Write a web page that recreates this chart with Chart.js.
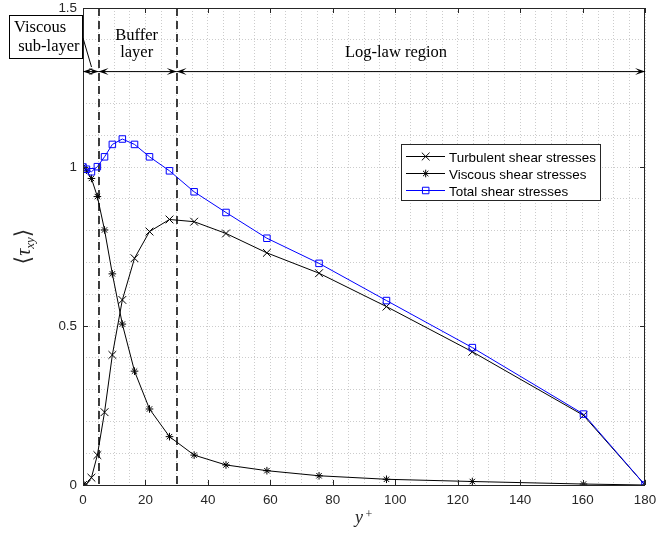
<!DOCTYPE html>
<html><head><meta charset="utf-8">
<script src="https://cdn.jsdelivr.net/npm/chart.js@4.4.1/dist/chart.umd.min.js"></script>
<style>html,body{margin:0;padding:0;background:#fff;}canvas{display:block;}</style>
</head><body>
<canvas id="c" width="657" height="535" style="width:657px;height:535px"></canvas>
<script>
// ---- data ----
const yPlus     = [0, 1.1, 2.7, 4.6, 6.9, 9.4, 12.6, 16.5, 21.3, 27.7, 35.6, 45.8, 58.9, 75.6, 97.2, 124.7, 160.3, 180];
const turbulent = [0, 0.003, 0.023, 0.094, 0.229, 0.409, 0.582, 0.713, 0.797, 0.835, 0.828, 0.791, 0.730, 0.666, 0.561, 0.419, 0.219, 0];
const viscous   = [1.0, 0.99, 0.964, 0.907, 0.802, 0.664, 0.506, 0.358, 0.239, 0.152, 0.094, 0.063, 0.045, 0.029, 0.018, 0.011, 0.003, 0];
const total     = [1.0, 0.993, 0.985, 1.001, 1.032, 1.071, 1.088, 1.071, 1.032, 0.988, 0.922, 0.857, 0.776, 0.697, 0.580, 0.432, 0.223, 0];
const seriesNames = ['Turbulent shear stresses', 'Viscous shear stresses', 'Total shear stresses'];
const xTickLabels = [0, 20, 40, 60, 80, 100, 120, 140, 160, 180];
const yTickLabels = [0, 0.5, 1, 1.5];
const regionBounds = [0, 5, 30, 180];
const regionLevel = 1.3;
const regionNames = [['Viscous', ' sub-layer'], ['Buffer', 'layer'], ['Log-law region']];

const pts = arr => arr.map((v, i) => ({x: yPlus[i], y: v}));
const BLUE = '#0000ff';
const AX = '#262626';
const SANS = '"Liberation Sans", Arial, sans-serif';
const SERIF = '"Liberation Serif", "Times New Roman", serif';
const tickFont = {family: SANS, size: 13.4};

const styles = [
  {color: '#000', pointStyle: 'crossRot', radius: 5.5},
  {color: '#000', pointStyle: 'star', radius: 3.8},
  {color: BLUE, pointStyle: 'rect', radius: 4.6}
];
const seriesData = [turbulent, viscous, total];

function arrowHead(ctx, x, y, dir) {
  const L = 10, W = 7, N = 5.5;
  ctx.beginPath();
  ctx.moveTo(x, y);
  ctx.lineTo(x - dir * L, y - W / 2);
  ctx.lineTo(x - dir * N, y);
  ctx.lineTo(x - dir * L, y + W / 2);
  ctx.closePath();
  ctx.fill();
}

function noPad(s) {
  s.paddingLeft = 0; s.paddingRight = 0; s.paddingTop = 0; s.paddingBottom = 0;
}

const decor = {
  id: 'decor',
  beforeDatasetsDraw(chart) {
    const {ctx, chartArea: a, scales: {x}} = chart;
    ctx.save();
    ctx.strokeStyle = '#000';
    ctx.lineWidth = 1.5;
    ctx.setLineDash([8, 5]);
    [regionBounds[1], regionBounds[2]].forEach(v => {
      const px = Math.round(x.getPixelForValue(v));
      ctx.beginPath(); ctx.moveTo(px, a.top); ctx.lineTo(px, a.bottom); ctx.stroke();
    });
    ctx.restore();
  },
  afterDraw(chart) {
    const {ctx, chartArea: a, scales: {x, y}} = chart;
    ctx.save();
    // axes box
    ctx.strokeStyle = AX; ctx.lineWidth = 1; ctx.setLineDash([]);
    ctx.strokeRect(a.left + 0.5, a.top + 0.5, a.right - a.left - 1, a.bottom - a.top);
    // inward ticks
    ctx.beginPath();
    xTickLabels.forEach(v => {
      const px = Math.round(x.getPixelForValue(v)) + 0.5;
      ctx.moveTo(px, a.bottom); ctx.lineTo(px, a.bottom - 5);
      ctx.moveTo(px, a.top); ctx.lineTo(px, a.top + 5);
    });
    yTickLabels.forEach(v => {
      const py = Math.round(y.getPixelForValue(v)) + 0.5;
      ctx.moveTo(a.left, py); ctx.lineTo(a.left + 5, py);
      ctx.moveTo(a.right, py); ctx.lineTo(a.right - 5, py);
    });
    ctx.stroke();

    // region arrows
    const ay = y.getPixelForValue(regionLevel);
    ctx.strokeStyle = '#000'; ctx.fillStyle = '#000'; ctx.lineWidth = 1;
    for (let i = 0; i < regionBounds.length - 1; i++) {
      const x0 = x.getPixelForValue(regionBounds[i]);
      const x1 = x.getPixelForValue(regionBounds[i + 1]);
      ctx.beginPath(); ctx.moveTo(x0, ay); ctx.lineTo(x1, ay); ctx.stroke();
      arrowHead(ctx, x0, ay, -1);
      arrowHead(ctx, x1, ay, 1);
    }
    // region texts
    ctx.font = '16.5px ' + SERIF;
    ctx.textBaseline = 'alphabetic';
    // viscous box
    ctx.fillStyle = '#fff';
    ctx.fillRect(9.5, 15.5, 73, 43);
    ctx.strokeStyle = '#000';
    ctx.strokeRect(9.5, 15.5, 73, 43);
    ctx.beginPath(); ctx.moveTo(83, 38); ctx.lineTo(91.5, 67); ctx.stroke();
    ctx.fillStyle = '#000';
    ctx.textAlign = 'left';
    ctx.fillText(regionNames[0][0], 14, 32);
    ctx.fillText(regionNames[0][1], 14, 51);
    ctx.textAlign = 'center';
    const bx = (x.getPixelForValue(regionBounds[1]) + x.getPixelForValue(regionBounds[2])) / 2 - 1;
    ctx.fillText(regionNames[1][0], bx, 39.5);
    ctx.fillText(regionNames[1][1], bx, 57);
    ctx.fillText(regionNames[2][0], 396, 57);

    // legend
    const lx = 401.5, ly = 144.5, lw = 199, lh = 56;
    ctx.fillStyle = '#fff'; ctx.fillRect(lx, ly, lw, lh);
    ctx.strokeStyle = AX; ctx.lineWidth = 1; ctx.strokeRect(lx, ly, lw, lh);
    const rows = [156.5, 173.5, 190.5];
    ctx.font = '13.4px ' + SANS;
    ctx.textAlign = 'left';
    rows.forEach((ry, i) => {
      const s = styles[i];
      ctx.strokeStyle = s.color; ctx.lineWidth = 1;
      ctx.beginPath(); ctx.moveTo(406, ry); ctx.lineTo(445, ry); ctx.stroke();
      ctx.fillStyle = 'rgba(0,0,0,0)';
      Chart.helpers.drawPoint(ctx, {pointStyle: s.pointStyle, radius: s.radius, rotation: 0, borderWidth: 1}, 425.7, ry);
      ctx.fillStyle = '#000';
      ctx.fillText(seriesNames[i], 449, ry + 5);
    });

    // x axis title: y^+
    ctx.fillStyle = AX;
    ctx.textAlign = 'left';
    ctx.font = 'italic 18px ' + SERIF;
    ctx.fillText('y', 355, 523);
    ctx.font = '12px ' + SERIF;
    ctx.fillText('+', 365.5, 518);

    // y axis title: <tau_xy>
    ctx.translate(30, 246.5);
    ctx.rotate(-Math.PI / 2);
    const pieces = [
      {t: '\u27E8', f: '22px "DejaVu Sans", sans-serif', dy: 0},
      {t: '\u03C4', f: 'italic 20px ' + SERIF, dy: 0},
      {t: 'xy', f: 'italic 13px ' + SERIF, dy: 3.5},
      {t: '\u27E9', f: '22px "DejaVu Sans", sans-serif', dy: 0}
    ];
    let tw = 0;
    pieces.forEach(p => { ctx.font = p.f; p.w = ctx.measureText(p.t).width; tw += p.w; });
    let cx = -tw / 2;
    pieces.forEach(p => { ctx.font = p.f; ctx.fillText(p.t, cx, p.dy); cx += p.w; });
    ctx.restore();
  }
};

new Chart(document.getElementById('c'), {
  type: 'line',
  data: {
    datasets: seriesData.map((d, i) => ({
      label: seriesNames[i],
      data: pts(d),
      borderColor: styles[i].color,
      backgroundColor: 'rgba(0,0,0,0)',
      borderWidth: 1,
      pointStyle: styles[i].pointStyle,
      pointRadius: styles[i].radius,
      pointBorderColor: styles[i].color,
      pointBackgroundColor: 'rgba(0,0,0,0)',
      pointBorderWidth: 1,
      tension: 0,
      fill: false,
      order: 3 - i
    }))
  },
  options: {
    responsive: false,
    animation: false,
    events: [],
    layout: {padding: {top: 8, right: 12, left: 0, bottom: 0}},
    scales: {
      x: {
        type: 'linear', min: 0, max: 180,
        afterFit(s) { s.height = 50; noPad(s); },
        ticks: {
          stepSize: 5, autoSkip: false, maxRotation: 0, minRotation: 0,
          callback: v => xTickLabels.includes(v) ? String(v) : '',
          font: tickFont, color: AX, padding: 7
        },
        grid: {color: 'rgba(0,0,0,0.2)', lineWidth: 1, drawTicks: false},
        border: {display: false, dash: [1, 2]}
      },
      y: {
        type: 'linear', min: 0, max: 1.5,
        afterFit(s) { s.width = 83; noPad(s); },
        ticks: {
          stepSize: 0.1, autoSkip: false,
          callback: v => { const m = yTickLabels.find(t => Math.abs(t - v) < 1e-6); return m === undefined ? '' : String(m); },
          font: tickFont, color: AX, padding: 6
        },
        grid: {color: 'rgba(0,0,0,0.2)', lineWidth: 1, drawTicks: false},
        border: {display: false, dash: [1, 2]}
      }
    },
    plugins: {legend: {display: false}, tooltip: {enabled: false}}
  },
  plugins: [decor]
});
</script>
</body></html>
